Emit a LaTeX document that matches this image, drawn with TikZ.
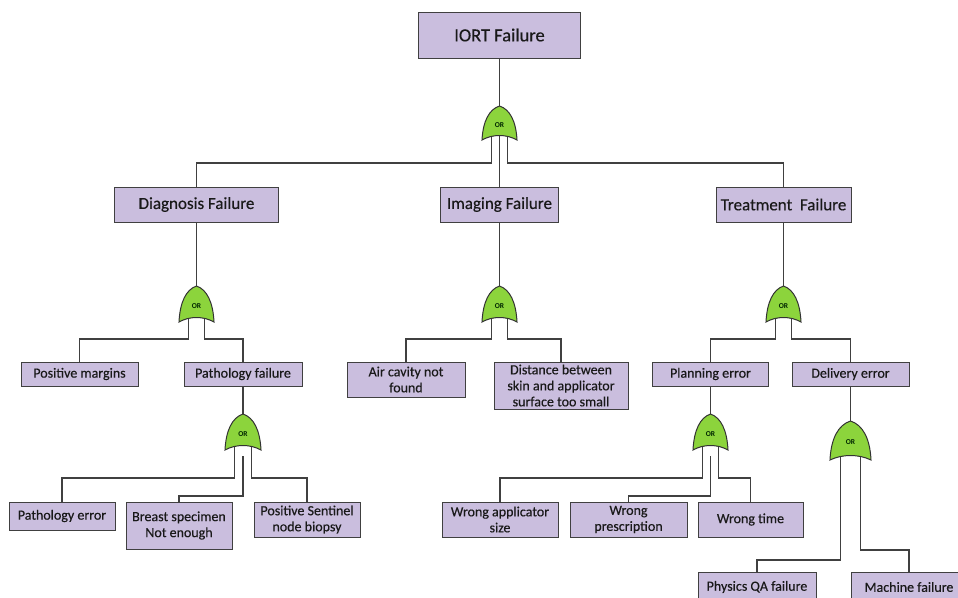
\documentclass[tikz,border=0pt]{standalone}
\usepackage{fontspec}
\setmainfont{Carlito}
\newfontfamily\boxfont{Carlito}[FakeBold=0.35]
\usetikzlibrary{calc}
\definecolor{boxfill}{RGB}{202,190,222}
\definecolor{gatefill}{RGB}{140,212,60}
\definecolor{linec}{RGB}{64,64,64}
\tikzset{
 evbox/.style={draw=linec, line width=1pt, fill=boxfill, inner sep=0pt, align=center, text=black!90, font=\boxfont\fontsize{14}{16}\selectfont},
 bigbox/.style={evbox, font=\boxfont\fontsize{17}{19}\selectfont},
 wire/.style={draw=linec, line width=1.1pt},
 gateshape/.style={draw=black!80, line width=1pt, fill=gatefill},
 gatelabel/.style={font=\fontsize{7.5}{7.5}\selectfont\bfseries, text=green!15!black, inner sep=0pt},
}
% gate points: name, cx, ty, w, h
\newcommand\gatepts[5]{%
 \coordinate (#1t) at (#2,#3);
 \coordinate (#1l) at ({#2-0.24*#4},{#3+#5-4});
 \coordinate (#1r) at ({#2+0.24*#4},{#3+#5-4});
 \coordinate (#1c) at (#2,{#3+#5-4});
 \coordinate (#1g) at (#2,{#3+#5+6});
}
\newcommand\gatebody[5]{%
 \path[gateshape] ({#2-#4/2},{#3+#5}) .. controls ({#2-#4/2+1},{#3+0.45*#5}) and ({#2-0.3*#4},{#3+0.1*#5}) .. (#2,#3)
   .. controls ({#2+0.3*#4},{#3+0.1*#5}) and ({#2+#4/2-1},{#3+0.45*#5}) .. ({#2+#4/2},{#3+#5})
   .. controls ({#2+0.2*#4},{#3+#5-6}) and ({#2-0.2*#4},{#3+#5-6}) .. cycle;
 \node[gatelabel] (#1lab) at (#2,{#3+0.55*#5}) {OR};
}
\begin{document}
\begin{tikzpicture}[x=1pt,y=-1pt]
\useasboundingbox (0,0) rectangle (958,597);
\fill[white] (0,0) rectangle (958,597);

% boxes
\node[bigbox, font=\boxfont\fontsize{18.5}{20}\selectfont, minimum width=162, minimum height=46] (top) at (499.5,35) {IORT Failure};
\node[bigbox, minimum width=164, minimum height=35] (diag) at (196.5,204.5) {Diagnosis Failure};
\node[bigbox, minimum width=118, minimum height=35] (img) at (499.5,204.5) {Imaging Failure};
\node[bigbox, minimum width=135, minimum height=35] (treat) at (783.5,204.5) {Treatment~~Failure};

\node[evbox, minimum width=117, minimum height=24] (posm) at (79.5,374) {Positive margins};
\node[evbox, minimum width=118, minimum height=24] (path) at (243,374) {Pathology failure};
\node[evbox, minimum width=118, minimum height=35] (air) at (406,379.5) {Air cavity not\\found};
\node[evbox, minimum width=134, minimum height=47] (dist) at (561,385.5) {Distance between\\skin and applicator\\surface too small};
\node[evbox, minimum width=116, minimum height=24] (plan) at (710.5,374) {Planning error};
\node[evbox, minimum width=117, minimum height=24] (deliv) at (850.5,374) {Delivery error};

\node[evbox, minimum width=106, minimum height=28] (perr) at (62,516) {Pathology error};
\node[evbox, minimum width=106, minimum height=47] (breast) at (179,525.5) {Breast specimen\\Not enough};
\node[evbox, minimum width=106, minimum height=35] (sent) at (307,519.5) {Positive Sentinel\\node biopsy};
\node[evbox, minimum width=116, minimum height=35] (wapp) at (500,519.5) {Wrong applicator\\size};
\node[evbox, minimum width=117, minimum height=35] (wpres) at (628.5,519.5) {Wrong\\prescription};
\node[evbox, minimum width=105, minimum height=35] (wtime) at (750.5,519.5) {Wrong time};
\node[evbox, minimum width=118, minimum height=30] (phys) at (757,587) {Physics QA failure};
\node[evbox, minimum width=116, minimum height=30] (mach) at (909,587) {Machine failure};

% gate points
\gatepts{ga}{499.5}{106}{35}{34}
\gatepts{gb}{196.5}{286}{35}{36}
\gatepts{gc}{243}{414}{36}{36}
\gatepts{gd}{499.5}{286}{35}{36}
\gatepts{ge}{783.5}{286}{35}{36}
\gatepts{gf}{710.5}{414}{35}{36}
\gatepts{gg}{850.5}{421}{41}{39}

% bus levels
\coordinate (b1) at (0,163);
\coordinate (b2) at (0,339);
\coordinate (b3) at (0,478);
\coordinate (b4) at (0,496);
\coordinate (b5) at (0,560);
\coordinate (b6) at (0,550);

% wires
\draw[wire] (top.south) -- (gat);
\draw[wire] (gal) -- (gal |- b1) -| (diag.north);
\draw[wire] (gar) -- (gar |- b1) -| (treat.north);
\draw[wire] (gac) -- (img.north);

\draw[wire] (diag.south) -- (gbt);
\draw[wire] (gbl) -- (gbl |- b2) -| (posm.north);
\draw[wire] (gbr) -- (gbr |- b2) -| (path.north);

\draw[wire] (path.south) -- (gct);
\draw[wire] (gcl) -- (gcl |- b3) -| (perr.north);
\draw[wire] (gcg) -- (gcg |- b4) -| (breast.north);
\draw[wire] (gcr) -- (gcr |- b3) -| (sent.north);

\draw[wire] (img.south) -- (gdt);
\draw[wire] (gdl) -- (gdl |- b2) -| (air.north);
\draw[wire] (gdr) -- (gdr |- b2) -| (dist.north);

\draw[wire] (treat.south) -- (get);
\draw[wire] (gel) -- (gel |- b2) -| (plan.north);
\draw[wire] (ger) -- (ger |- b2) -| (deliv.north);

\draw[wire] (plan.south) -- (gft);
\draw[wire] (gfl) -- (gfl |- b3) -| (wapp.north);
\draw[wire] (gfg) -- (gfg |- b4) -| (wpres.north);
\draw[wire] (gfr) -- (gfr |- b3) -| (wtime.north);

\draw[wire] (deliv.south) -- (ggt);
\draw[wire] (ggl) -- (ggl |- b5) -| (phys.north);
\draw[wire] (ggr) -- (ggr |- b6) -| (mach.north);

% gate bodies
\gatebody{ga}{499.5}{106}{35}{34}
\gatebody{gb}{196.5}{286}{35}{36}
\gatebody{gc}{243}{414}{36}{36}
\gatebody{gd}{499.5}{286}{35}{36}
\gatebody{ge}{783.5}{286}{35}{36}
\gatebody{gf}{710.5}{414}{35}{36}
\gatebody{gg}{850.5}{421}{41}{39}
\end{tikzpicture}
\end{document}
